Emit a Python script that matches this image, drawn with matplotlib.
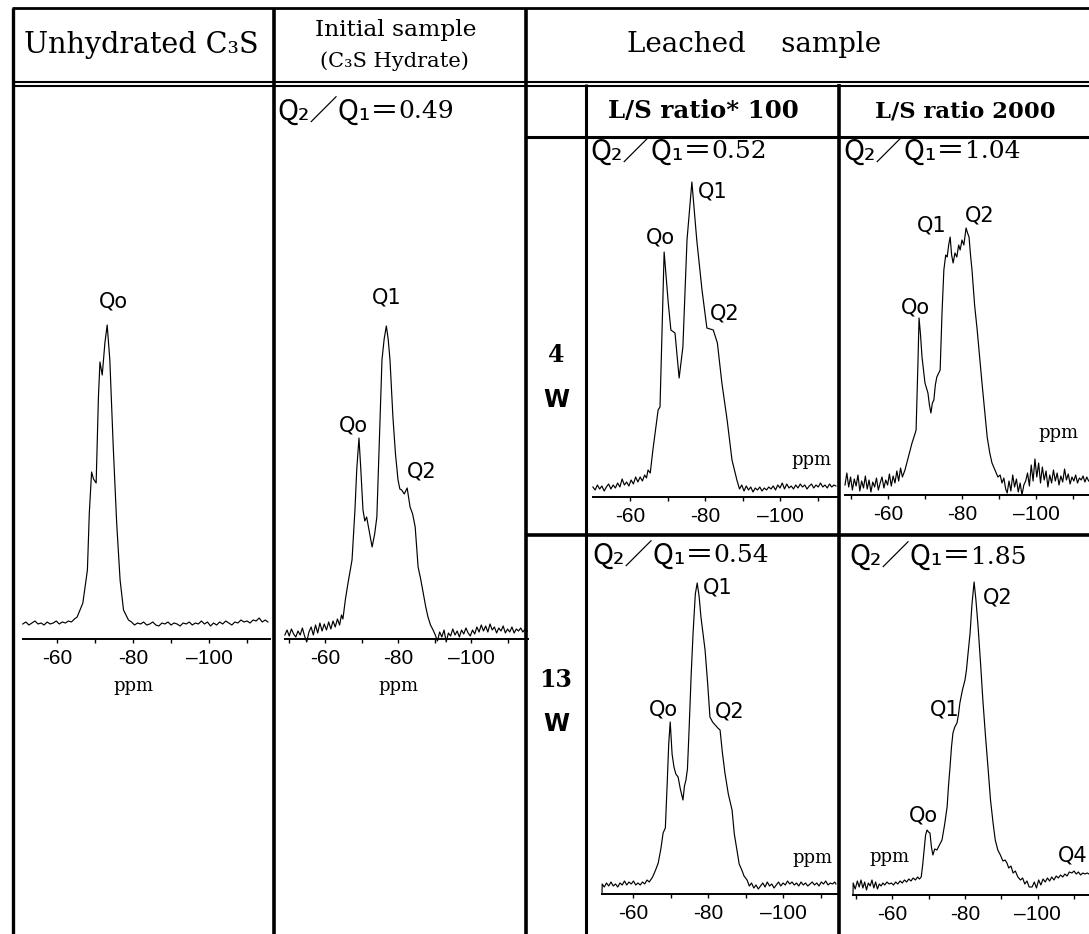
import matplotlib
matplotlib.use("Agg")
import matplotlib.pyplot as plt
from matplotlib.ticker import FixedLocator, FixedFormatter, NullFormatter

# ------------------------------------------------------------------ data
col_title_1 = "Unhydrated C\u2083S"
col_title_2a = "Initial sample"
col_title_2b = "(C\u2083S Hydrate)"
col_title_3 = "Leached    sample"
ls_titles = ["L/S ratio* 100", "L/S ratio 2000"]
row_titles = [("4", "W"), ("13", "W")]
ratio_values = ["0.49", "0.52", "1.04", "0.54", "1.85"]

tick_values = [-60, -80, -100]
tick_labels = ["-60", "-80", "\u2013100"]
minor_values = [-50, -70, -90, -110]

# Unhydrated C3S
p1_ppm = [-51.0, -51.8, -52.6, -53.4, -54.2, -55.0, -55.8, -56.6, -57.4, -58.2, -59.0, -59.8,
          -60.6, -61.4, -62.2, -63.0, -63.8, -64.6, -65.3, -66.8, -68.0, -68.5, -69.1, -69.6,
          -70.3, -70.9, -71.3, -71.9, -72.6, -73.2, -73.9, -74.8, -75.7, -76.6, -77.5, -78.8,
          -79.6, -80.4, -81.2, -82.0, -82.8, -83.6, -84.4, -85.2, -86.0, -86.8, -87.6, -88.4,
          -89.2, -90.0, -90.8, -91.6, -92.4, -93.2, -94.0, -94.8, -95.6, -96.4, -97.2, -98.0,
          -98.8, -99.6, -100.4, -101.2, -102.0, -102.8, -103.6, -104.4, -105.2, -106.0, -106.8,
          -107.6, -108.4, -109.2, -110.0, -110.8, -111.6, -112.4, -113.2, -114.0, -114.8, -115.5]
p1_int = [15, 17, 14, 16, 18, 15, 16, 14, 17, 15, 16, 18,
          15, 17, 16, 18, 17, 20, 22, 36, 69, 126, 167, 160,
          156, 242, 277, 264, 296, 314, 279, 192, 116, 59, 29, 19,
          17, 14, 16, 15, 17, 14, 15, 17, 14, 13, 16, 15,
          17, 14, 16, 15, 13, 16, 15, 17, 14, 16, 15, 18,
          15, 17, 13, 16, 14, 17, 15, 18, 16, 14, 17,
          16, 19, 17, 18, 16, 19, 18, 21, 17, 19, 17]

# Initial sample (C3S hydrate)
p2_ppm = [-49.0, -49.6, -50.2, -50.8, -51.4, -52.0, -52.6, -53.2, -53.8, -54.4, -55.0, -55.6,
          -56.2, -56.8, -57.4, -58.0, -58.6, -59.2, -59.8, -60.4, -61.0, -61.6, -62.2, -62.8,
          -63.4, -64.0, -64.5, -64.9, -65.6, -66.3, -67.4, -68.2, -68.7, -69.3, -69.8, -70.4,
          -70.9, -71.4, -72.1, -72.9, -73.6, -74.2, -74.9, -75.6, -76.2, -76.8, -77.3, -77.8,
          -78.6, -79.3, -80.0, -80.5, -81.0, -81.7, -82.5, -83.3, -84.0, -84.7, -85.5, -86.2,
          -86.9, -87.6, -88.2, -88.9, -89.6, -90.2, -90.8, -91.4, -92.0, -92.6, -93.2, -93.8,
          -94.4, -95.0, -95.6, -96.2, -96.8, -97.4, -98.0, -98.6, -99.2, -99.8, -100.4, -101.0,
          -101.6, -102.2, -102.8, -103.4, -104.0, -104.6, -105.2, -105.8, -106.4, -107.0, -107.6,
          -108.2, -108.8, -109.4, -110.0, -110.6, -111.2, -111.8, -112.4, -113.0, -113.6, -114.2,
          -114.8, -115.4]
p2_int = [4, 9, 3, 10, 5, 2, 8, 4, 11, 3, -3, 7,
          12, 4, 14, 6, 16, 8, 15, 9, 17, 10, 18, 12,
          20, 14, 24, 20, 40, 56, 79, 129, 170, 201, 170, 129,
          118, 122, 108, 92, 105, 122, 200, 279, 300, 313, 300, 279,
          222, 185, 159, 150, 149, 145, 151, 132, 125, 112, 72, 60,
          46, 32, 22, 14, 9, 4, -2, 7, 2, 9, -3, 6,
          3, 10, 4, 8, 2, 9, 5, 11, 6, 3, 9, 5,
          12, 7, 14, 8, 13, 7, 15, 9, 12, 6, 11,
          8, 13, 6, 10, 7, 12, 6, 10, 8, 11, 7,
          10, 8]

# 4 W, L/S 100
p3_ppm = [-50.1, -50.7, -51.3, -51.9, -52.5, -53.1, -53.7, -54.3, -54.9, -55.5, -56.1, -56.7,
          -57.3, -57.9, -58.5, -59.1, -59.7, -60.3, -60.9, -61.5, -62.1, -62.7, -63.3, -63.9,
          -64.4, -64.8, -65.4, -66.1, -67.5, -68.0, -68.5, -69.1, -70.2, -70.9, -72.0, -73.1,
          -74.1, -75.2, -76.5, -77.8, -79.2, -80.5, -82.2, -83.3, -84.5, -85.9, -87.2, -88.5,
          -89.2, -89.8, -90.4, -91.0, -91.6, -92.2, -92.8, -93.4, -94.0, -94.6, -95.2, -95.8,
          -96.4, -97.0, -97.6, -98.2, -98.8, -99.4, -100.0, -100.6, -101.2, -101.8, -102.4,
          -103.0, -103.6, -104.2, -104.8, -105.4, -106.0, -106.6, -107.2, -107.8, -108.4,
          -109.0, -109.6, -110.2, -110.8, -111.4, -112.0, -112.6, -113.2, -113.8, -114.4, -114.9]
p3_int = [10, 7, 12, 8, 11, 6, 10, 13, 8, 12, 9, 14,
          10, 18, 12, 15, 11, 17, 13, 20, 15, 20, 16, 22,
          19, 27, 24, 47, 87, 90, 160, 245, 194, 167, 164, 119,
          150, 257, 315, 257, 207, 169, 167, 154, 114, 77, 37, 17,
          8, 12, 6, 11, 7, 10, 5, 9, 7, 10, 6, 9,
          7, 10, 8, 11, 7, 12, 9, 14, 8, 13, 9,
          11, 8, 12, 9, 13, 10, 12, 8, 11, 13,
          9, 12, 10, 14, 10, 12, 9, 13, 10, 12, 11]

# 4 W, L/S 2000
p4_ppm = [-48.4, -48.9, -49.4, -49.9, -50.4, -50.9, -51.4, -51.9, -52.4, -52.9, -53.4, -53.9,
          -54.4, -54.9, -55.4, -55.9, -56.4, -56.9, -57.4, -57.9, -58.4, -58.9, -59.4, -59.9,
          -60.4, -60.9, -61.4, -61.9, -62.4, -62.9, -63.4, -63.9, -64.6, -65.5, -66.5, -67.2,
          -67.6, -68.1, -68.4, -68.8, -69.2, -70.0, -70.4, -70.8, -71.2, -71.6, -72.0, -72.4,
          -72.8, -73.2, -74.1, -74.6, -75.1, -75.6, -76.0, -76.4, -76.8, -77.2, -77.6, -78.1,
          -78.6, -79.1, -79.5, -80.0, -80.5, -81.1, -81.5, -81.9, -82.3, -82.7, -83.4, -84.1,
          -84.7, -85.4, -86.1, -86.8, -87.5, -88.1, -88.9, -89.7, -90.3, -90.8, -91.3, -91.8,
          -92.2, -92.7, -93.2, -93.7, -94.2, -94.7, -95.2, -95.7, -96.2, -96.7, -97.2, -97.7,
          -98.2, -98.7, -99.2, -99.7, -100.2, -100.7, -101.2, -101.7, -102.2, -102.7, -103.2,
          -103.7, -104.2, -104.7, -105.2, -105.7, -106.2, -106.7, -107.2, -107.7, -108.2,
          -108.7, -109.2, -109.7, -110.2, -110.7, -111.2, -111.7, -112.2, -112.7, -113.2,
          -113.7, -114.2]
p4_int = [10, 22, 8, 18, 5, 16, 9, 20, 4, 14, 7, 19,
          6, 15, 3, 13, 8, 17, 5, 12, 18, 7, 15, 10,
          21, 9, 19, 12, 24, 14, 27, 18, 25, 38, 52, 60,
          65, 132, 177, 160, 138, 112, 107, 102, 90, 82, 92, 95,
          110, 118, 125, 182, 225, 240, 238, 250, 258, 240, 232, 242,
          238, 250, 245, 255, 250, 267, 262, 258, 240, 225, 190, 165,
          140, 112, 85, 58, 42, 32, 25, 18, 20, 12, 17, 6,
          2, 14, 4, 20, 8, 16, 3, 12, 0, 10, 14, 22,
          9, 30, 14, 36, 18, 32, 12, 28, 15, 24, 8,
          20, 12, 25, 14, 22, 10, 19, 13, 26, 15,
          21, 11, 18, 14, 20, 12, 17, 15, 19, 13,
          18, 14]

# 13 W, L/S 100
p5_ppm = [-51.7, -51.75, -52.3, -52.9, -53.5, -54.1, -54.7, -55.3, -55.9, -56.5, -57.1, -57.7,
          -58.3, -58.9, -59.5, -60.1, -60.7, -61.3, -61.9, -62.5, -63.1, -63.7, -64.3, -65.2,
          -66.0, -66.7, -67.4, -68.0, -68.6, -69.1, -69.5, -69.9, -70.4, -70.9, -71.4, -72.0,
          -72.6, -73.3, -73.7, -74.1, -74.5, -74.9, -75.5, -76.0, -76.6, -77.1, -77.6, -78.1,
          -78.6, -79.2, -79.9, -80.5, -81.2, -81.9, -82.6, -83.2, -83.8, -84.5, -85.4, -86.4,
          -87.0, -87.7, -88.3, -89.0, -89.6, -90.4, -91.0, -91.6, -92.2, -92.8, -93.4, -94.0,
          -94.6, -95.2, -95.8, -96.4, -97.0, -97.6, -98.2, -98.8, -99.4, -100.0, -100.6, -101.2,
          -101.8, -102.4, -103.0, -103.6, -104.2, -104.8, -105.4, -106.0, -106.6, -107.2, -107.8,
          -108.4, -109.0, -109.6, -110.2, -110.8, -111.4, -112.0, -112.6, -113.2, -113.8, -114.1]
p5_int = [0, 10, 7, 11, 8, 12, 8, 10, 7, 11, 9, 13,
          9, 12, 10, 13, 9, 11, 9, 12, 10, 14, 12, 17,
          24, 31, 45, 61, 66, 111, 150, 172, 140, 127, 120, 117,
          105, 94, 108, 114, 125, 161, 220, 261, 300, 311, 298, 277,
          262, 244, 210, 177, 172, 169, 166, 164, 142, 121, 100, 84,
          60, 44, 30, 24, 18, 14, 8, 11, 6, 9, 5, 8,
          11, 7, 12, 8, 10, 6, 9, 12, 8, 11, 9, 13,
          10, 12, 9, 11, 8, 12, 9, 11, 8, 10, 12,
          9, 11, 8, 12, 10, 13, 9, 11, 10, 12, 10]

# 13 W, L/S 2000
p6_ppm = [-49.3, -49.35, -49.9, -50.5, -51.0, -51.5, -52.0, -52.5, -53.0, -53.5, -54.0, -54.5,
          -55.0, -55.5, -56.0, -56.5, -57.0, -57.5, -58.0, -58.6, -59.2, -59.8, -60.4, -61.0,
          -61.6, -62.2, -62.8, -63.4, -64.0, -64.6, -65.2, -65.8, -66.4, -67.0, -67.5, -68.0,
          -68.4, -68.8, -69.2, -69.6, -70.0, -70.4, -70.8, -71.2, -71.7, -72.3, -73.0, -73.7,
          -74.4, -75.1, -75.5, -75.9, -76.3, -76.7, -77.2, -77.8, -78.2, -78.6, -79.3, -80.0,
          -80.4, -80.8, -81.4, -81.9, -82.5, -83.0, -83.6, -84.3, -84.9, -85.6, -86.3, -87.0,
          -87.7, -88.3, -89.0, -89.7, -90.4, -91.0, -91.5, -92.0, -92.6, -93.2, -93.8, -94.5,
          -95.2, -95.8, -96.4, -97.0, -97.6, -98.4, -99.0, -99.6, -100.2, -100.8, -101.4,
          -102.0, -102.6, -103.2, -103.8, -104.4, -105.0, -105.6, -106.2, -106.8, -107.4,
          -108.0, -108.6, -109.3, -109.9, -110.5, -111.1, -111.7, -112.3, -112.9, -113.5, -114.0]
p6_int = [0, 12, 6, 14, 8, 15, 7, 13, 5, 12, 9, 15,
          7, 13, 6, 11, 9, 12, 10, 13, 11, 12, 10, 13,
          11, 14, 12, 15, 13, 16, 14, 17, 15, 18, 16, 18,
          30, 45, 60, 65, 63, 62, 48, 40, 46, 45, 50, 55,
          70, 88, 110, 128, 148, 162, 168, 172, 180, 192, 205, 215,
          225, 240, 262, 290, 313, 295, 268, 230, 195, 160, 128, 95,
          72, 55, 45, 40, 34, 35, 32, 27, 29, 22, 24, 18,
          15, 17, 11, 14, 8, 8, 13, 7, 15, 10, 16,
          13, 17, 14, 18, 15, 19, 17, 20, 18, 21,
          19, 23, 22, 24, 21, 23, 20, 22, 21, 22, 21]

# ------------------------------------------------------------------ figure
W, H = 1089, 934
fig = plt.figure(figsize=(W / 100, H / 100), dpi=100)
fig.patch.set_facecolor("white")
ov = fig.add_axes([0, 0, 1, 1])
ov.set_xlim(0, W)
ov.set_ylim(H, 0)
ov.axis("off")

SERIF = "DejaVu Serif"
SANS = "DejaVu Sans"
CJK = ["Noto Sans CJK JP", "DejaVu Sans"]
TICKF = "Liberation Sans"

# table rules
def hline(y, x0, x1, lw=2.2):
    ov.plot([x0, x1], [y, y], color="black", lw=lw, solid_capstyle="butt")

def vline(x, y0, y1, lw=2.2):
    ov.plot([x, x], [y0, y1], color="black", lw=lw, solid_capstyle="butt")

hline(8, 12, W, 2.0)
hline(82, 12, W, 1.5)
hline(86, 12, W, 1.5)
hline(137, 526, W, 2.2)
hline(535, 526, W, 2.6)
vline(13, 8, H, 2.4)
vline(274, 8, H, 2.6)
vline(526, 8, H, 2.6)
vline(586, 84, H, 2.2)
vline(839, 84, H, 2.6)

fig.canvas.draw()
renderer = fig.canvas.get_renderer()

def fit_text(x, y, s, target_w, **kw):
    t = ov.text(x, y, s, **kw)
    bb = t.get_window_extent(renderer)
    t.set_fontsize(t.get_fontsize() * target_w / bb.width)
    return t

t1 = fit_text(141, 45, col_title_1, 236, family=SERIF, fontsize=18, ha="center", va="center")
head_fs = t1.get_fontsize()
fit_text(396, 30, col_title_2a, 162, family=SERIF, fontsize=18, ha="center", va="center")
fit_text(394, 61, col_title_2b, 149, family=SERIF, fontsize=15, ha="center", va="center")
ov.text(754, 45, col_title_3, family=SERIF, fontsize=head_fs * 0.97, ha="center", va="center")
fit_text(703, 111, ls_titles[0], 191, family=SERIF, fontsize=16, ha="center", va="center",
         fontweight="bold")
fit_text(965, 111, ls_titles[1], 181, family=SERIF, fontsize=16, ha="center", va="center",
         fontweight="bold")

for (num, wk), (yn, yw) in zip(row_titles, [(355, 400), (680, 724)]):
    ov.text(556, yn, num, family=SERIF, fontsize=17, fontweight="bold", ha="center", va="center")
    ov.text(556, yw, wk, family=SANS, fontsize=17, fontweight="bold", ha="center", va="center")

# ratio labels
ratio_pos = [(277, 112), (590, 152), (843, 152), (592, 556), (849, 557)]
for val, (x, y) in zip(ratio_values, ratio_pos):
    t = ov.text(x, y, "Q\u2082\uff0fQ\u2081\uff1d", family=CJK, fontsize=17, ha="left", va="center")
    bb = t.get_window_extent(renderer)
    t.set_fontsize(17 * 122 / bb.width)
    bb = t.get_window_extent(renderer)
    ov.text(x + bb.width, y, val, family=SERIF, fontsize=18, ha="left", va="center")

# spectra panels: data, box (x0, x1, axis_y, top_y), xlim
panels = [
    (p1_ppm, p1_int, (23, 270, 639, 280), (-51.05, -116.05)),
    (p2_ppm, p2_int, (285, 528, 639, 280), (-49.04, -115.6)),
    (p3_ppm, p3_int, (593, 837, 497, 170), (-50.13, -115.2)),
    (p4_ppm, p4_int, (845, 1089, 495, 170), (-48.4, -114.3)),
    (p5_ppm, p5_int, (602, 837, 894, 565), (-51.7, -114.4)),
    (p6_ppm, p6_int, (853, 1089, 895, 565), (-49.3, -114.0)),
]
for ppm, inten, (x0, x1, yb, yt), xl in panels:
    ax = fig.add_axes([x0 / W, 1 - yb / H, (x1 - x0) / W, (yb - yt) / H])
    ax.patch.set_visible(False)
    ax.plot(ppm, inten, color="black", lw=0.85, clip_on=False)
    ax.set_xlim(*xl)
    ax.set_ylim(0, yb - yt)
    for s in ("left", "right", "top"):
        ax.spines[s].set_visible(False)
    ax.spines["bottom"].set_linewidth(1.4)
    ax.set_yticks([])
    ax.xaxis.set_major_locator(FixedLocator(tick_values))
    ax.xaxis.set_major_formatter(FixedFormatter(tick_labels))
    ax.xaxis.set_minor_locator(FixedLocator(minor_values))
    ax.xaxis.set_minor_formatter(NullFormatter())
    ax.tick_params(axis="x", which="both", direction="out", length=3, width=1.0, pad=4,
                   labelsize=15)
    for lab in ax.get_xticklabels():
        lab.set_family(TICKF)

# ppm labels
for (x, y) in [(133, 686), (398, 686), (811, 460), (1058, 433), (812, 858), (889, 857)]:
    ov.text(x, y, "ppm", family=SERIF, fontsize=13, ha="center", va="center")

# peak labels
peak_labels = [
    ("Qo", 113, 302),
    ("Q1", 387, 297), ("Qo", 353, 425), ("Q2", 422, 472),
    ("Qo", 660, 237), ("Q1", 713, 192), ("Q2", 725, 313),
    ("Q1", 932, 225), ("Q2", 980, 215), ("Qo", 915, 308),
    ("Qo", 663, 710), ("Q1", 718, 588), ("Q2", 730, 712),
    ("Qo", 923, 815), ("Q1", 945, 710), ("Q2", 998, 597), ("Q4", 1073, 855),
]
for s, x, y in peak_labels:
    ov.text(x, y, s, family=SANS, fontsize=15, ha="center", va="center")

fig.savefig("out.png", dpi=100, facecolor="white")
